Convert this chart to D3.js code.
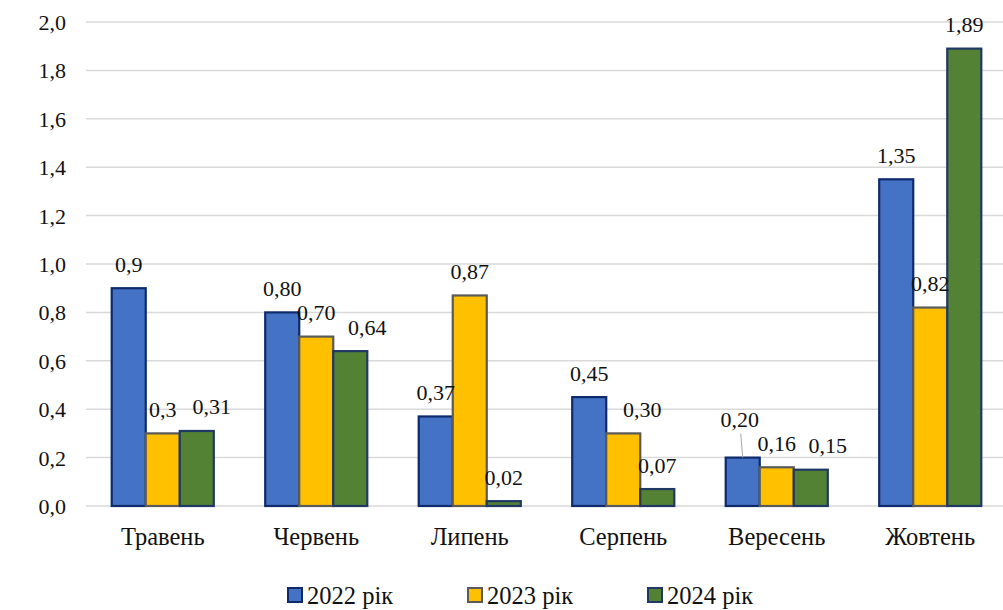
<!DOCTYPE html>
<html>
<head>
<meta charset="utf-8">
<script src="https://cdn.jsdelivr.net/npm/d3@7"></script>
<style>
  html, body { margin: 0; padding: 0; background: #fff; }
  svg { display: block; }
</style>
</head>
<body>
<svg id="chart" width="1003" height="610"></svg>
<script>
// Monthly values by year
const months = ["Травень", "Червень", "Липень", "Серпень", "Вересень", "Жовтень"];
const seriesNames = ["2022 рік", "2023 рік", "2024 рік"];
const values2022 = [0.9, 0.80, 0.37, 0.45, 0.20, 1.35];
const values2023 = [0.3, 0.70, 0.87, 0.30, 0.16, 0.82];
const values2024 = [0.31, 0.64, 0.02, 0.07, 0.15, 1.89];
// Printed label text for each value
const labels2022 = ["0,9", "0,80", "0,37", "0,45", "0,20", "1,35"];
const labels2023 = ["0,3", "0,70", "0,87", "0,30", "0,16", "0,82"];
const labels2024 = ["0,31", "0,64", "0,02", "0,07", "0,15", "1,89"];
const yTicks = [0, 0.2, 0.4, 0.6, 0.8, 1.0, 1.2, 1.4, 1.6, 1.8, 2.0];

const FONT = "'Liberation Serif', 'Times New Roman', serif";
const fills = ["#4472C4", "#FFC000", "#548235"];
const strokes = ["#0E2A6B", "#5A5A5A", "#1F3864"];

// Label nudges [series][month] -> [dx, dy] to keep labels clear of neighbours
const labelNudge = [
  [[0,0],[0,0],[0,0],[0,0],[-3,-14],[0,0]],
  [[0,0],[0,0],[0,0],[19,0],[0,0],[0,0]],
  [[15,0],[17,0],[0,0],[0,0],[17,0],[0,0]]
];

const svg = d3.select("#chart");
const margin = { left: 86, right: -4, top: 22, bottom: 104 };
const W = 1003, H = 610;

const x = d3.scaleBand().domain(months).range([margin.left, W - margin.right]).paddingInner(0.335).paddingOuter(0.1675);
const y = d3.scaleLinear().domain([0, 2.0]).range([H - margin.bottom, margin.top]);
const xs = d3.scaleBand().domain(seriesNames).range([0, x.bandwidth()]);

// Gridlines
svg.append("g").selectAll("line").data(yTicks).join("line")
  .attr("x1", margin.left).attr("x2", W)
  .attr("y1", d => y(d)).attr("y2", d => y(d))
  .attr("stroke", "#d9d9d9").attr("stroke-width", 1.5);

// Y axis labels
const yAxis = d3.axisLeft(y).tickValues(yTicks).tickSize(0).tickPadding(0)
  .tickFormat(d => d3.format(".1f")(d).replace(".", ","));
const ya = svg.append("g").attr("transform", `translate(66,0)`).call(yAxis);
ya.select(".domain").remove();
ya.selectAll("text").style("font-family", FONT).style("font-size", "22px").attr("fill", "#111").attr("dy", "0.34em");

// X axis labels
const xAxis = d3.axisBottom(x).tickSize(0).tickPadding(0);
const xa = svg.append("g").attr("transform", `translate(0,${y(0)})`).call(xAxis);
xa.select(".domain").remove();
xa.selectAll("text").style("font-family", FONT).style("font-size", "24.5px").attr("fill", "#111").attr("dy", "0").attr("y", 39);

const seriesValues = [values2022, values2023, values2024];
const seriesLabels = [labels2022, labels2023, labels2024];

seriesNames.forEach((name, si) => {
  const data = months.map((m, i) => ({ m, i, v: seriesValues[si][i] }));
  svg.append("g").selectAll("rect").data(data).join("rect")
    .attr("x", d => x(d.m) + xs(name))
    .attr("width", xs.bandwidth())
    .attr("y", d => y(d.v))
    .attr("height", d => y(0) - y(d.v))
    .attr("fill", fills[si])
    .attr("stroke", strokes[si])
    .attr("stroke-width", 2.2);
});

// Value labels (drawn after all bars so they sit on top)
seriesNames.forEach((name, si) => {
  const data = months.map((m, i) => ({ m, i, v: seriesValues[si][i], t: seriesLabels[si][i] }));
  const g = svg.append("g");
  data.forEach(d => {
    const [dx, dy] = labelNudge[si][d.i];
    const cx = x(d.m) + xs(name) + xs.bandwidth() / 2;
    const ty = y(d.v) - 24;
    if (dy !== 0) {
      g.append("line")
        .attr("x1", cx + dx + 1).attr("y1", ty + dy + 14)
        .attr("x2", cx).attr("y2", y(d.v))
        .attr("stroke", "#a6a6a6").attr("stroke-width", 1);
    }
    g.append("text")
      .attr("x", cx + dx).attr("y", ty + dy)
      .attr("dy", "0.34em")
      .attr("text-anchor", "middle")
      .style("font-family", FONT)
      .style("font-size", "22px")
      .attr("fill", "#111")
      .text(d.t);
  });
});

// Legend
const legendX = [288, 468, 648];
const leg = svg.append("g");
seriesNames.forEach((name, si) => {
  leg.append("rect")
    .attr("x", legendX[si]).attr("y", 588).attr("width", 14).attr("height", 14)
    .attr("fill", fills[si]).attr("stroke", strokes[si]).attr("stroke-width", 2);
  leg.append("text")
    .attr("x", legendX[si] + 19).attr("y", 604)
    .style("font-family", FONT)
    .style("font-size", "24.5px")
    .attr("fill", "#111")
    .text(name);
});
</script>
</body>
</html>
